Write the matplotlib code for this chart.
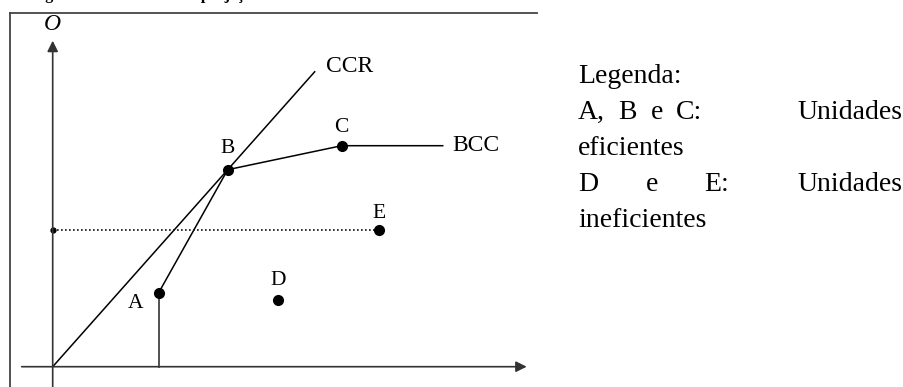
import matplotlib.pyplot as plt
from matplotlib.lines import Line2D

# units (input, output) of each DMU
units = ['A', 'B', 'C', 'D', 'E']
x_vals = [5.3, 8.75, 14.45, 11.25, 16.3]
y_vals = [3.7, 9.85, 11.05, 3.35, 6.85]

ccr_end_x = 13.1      # where the CCR ray stops
bcc_end_x = 19.5      # where the flat BCC part stops
x_axis = [-1.55, 23.7]
y_axis = [-1.1, 16.3]

legend_lines = ['Legenda:', 'A, B e C:', 'eficientes', 'D e E:', 'ineficientes']

plt.rcParams['font.family'] = ['Liberation Serif', 'DejaVu Serif']

W, H = 904, 387
fig = plt.figure(figsize=(W / 100, H / 100), dpi=100)
ax = fig.add_axes([0, 0, 1, 1])
k = 20.0  # pixels per data unit
ox, oy = 52.7, H - 366.7
ax.set_xlim(-ox / k, (W - ox) / k)
ax.set_ylim(-oy / k, (H - oy) / k)
ax.axis('off')

pt = dict(zip(units, zip(x_vals, y_vals)))
ax_col = '#333333'

# axes with arrow heads
ax.annotate('', xy=(x_axis[1], 0), xytext=(x_axis[0], 0),
            arrowprops=dict(arrowstyle='-|>', color=ax_col, lw=1.2,
                            mutation_scale=16, shrinkA=0, shrinkB=0))
ax.annotate('', xy=(0, y_axis[1]), xytext=(0, y_axis[0]),
            arrowprops=dict(arrowstyle='-|>', color=ax_col, lw=1.2,
                            mutation_scale=16, shrinkA=0, shrinkB=0))
ax.annotate('O', xy=(0, y_axis[1]), xytext=(0, 12), textcoords='offset points',
            ha='center', va='center', fontsize=17, style='italic')

# CCR ray through the origin and B
slope = pt['B'][1] / pt['B'][0]
ax.plot([0, ccr_end_x], [0, slope * ccr_end_x], color='black', lw=1.1)
ax.annotate('CCR', xy=(ccr_end_x, slope * ccr_end_x), xytext=(8, 4),
            textcoords='offset points', ha='left', va='center', fontsize=17)

# BCC frontier A -> B -> C -> flat
bx = [pt['A'][0], pt['B'][0], pt['C'][0], bcc_end_x]
by = [pt['A'][1], pt['B'][1], pt['C'][1], pt['C'][1]]
ax.plot(bx, by, color='black', lw=1.1)
ax.plot([pt['A'][0], pt['A'][0]], [0, pt['A'][1]], color=ax_col, lw=1.2)
ax.annotate('BCC', xy=(bcc_end_x, pt['C'][1]), xytext=(7, 0),
            textcoords='offset points', ha='left', va='center', fontsize=17)

# dotted projection of E onto the output axis
ax.plot([0, pt['E'][0]], [pt['E'][1], pt['E'][1]], color='#111111', lw=1.2,
        linestyle=(0, (1, 1.4)))
ax.plot([0], [pt['E'][1]], 'o', color='black', ms=3.5)

# the units
ax.plot(x_vals, y_vals, 'o', color='black', ms=7, zorder=5)
offsets = {'A': (-17, -8), 'B': (0, 15), 'C': (0, 13), 'D': (0, 14), 'E': (0, 12)}
for u in units:
    ax.annotate(u, xy=pt[u], xytext=offsets[u], textcoords='offset points',
                ha='center', va='center', fontsize=15.5)

# frame around the picture: only its top and left edges are in view
fig.add_artist(Line2D([10 / W, 537 / W], [1 - 13 / H, 1 - 13 / H],
                      transform=fig.transFigure, color='#444444', lw=1.3))
fig.add_artist(Line2D([10 / W, 10 / W], [0, 1 - 13 / H],
                      transform=fig.transFigure, color='#444444', lw=1.3))

# caption, cut off at the top edge as in the source
fig.text(31 / W, 1 + 1 / H, 'Figura 2 – Fronteiras de projeção', fontsize=11.5,
         fontweight='bold', ha='left', va='baseline')

# legend text on the right (justified lines)
lx = 578 / W
base = [83, 119, 155, 191, 227]
fs = 20
fig.text(lx, 1 - base[0] / H, legend_lines[0], fontsize=fs, va='baseline')
words1 = legend_lines[1].split()
xs1 = [578, 618, 651, 676]
for w_, x_ in zip(words1, xs1):
    fig.text(x_ / W, 1 - base[1] / H, w_, fontsize=fs, va='baseline')
fig.text(902 / W, 1 - base[1] / H, 'Unidades', fontsize=fs, va='baseline', ha='right')
fig.text(lx, 1 - base[2] / H, legend_lines[2], fontsize=fs, va='baseline')
words3 = legend_lines[3].split()
xs3 = [578, 646, 704]
for w_, x_ in zip(words3, xs3):
    fig.text(x_ / W, 1 - base[3] / H, w_, fontsize=fs, va='baseline')
fig.text(902 / W, 1 - base[3] / H, 'Unidades', fontsize=fs, va='baseline', ha='right')
fig.text(lx, 1 - base[4] / H, legend_lines[4], fontsize=fs, va='baseline')

fig.savefig('out.png', dpi=100)
